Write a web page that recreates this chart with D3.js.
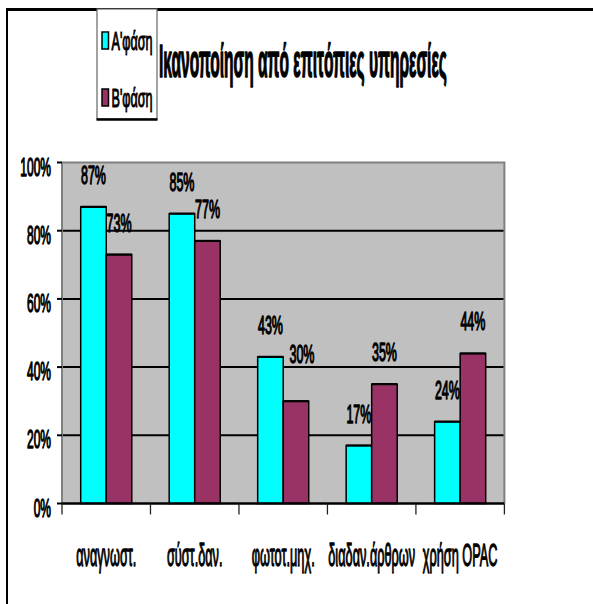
<!DOCTYPE html>
<html>
<head>
<meta charset="utf-8">
<script src="https://cdn.jsdelivr.net/npm/d3@7"></script>
<style>
  body { margin: 0; background: #fff; overflow: hidden; }
  svg { display: block; }
  text { font-family: "Liberation Sans", Arial, sans-serif; fill: #000; }
</style>
</head>
<body>
<svg id="chart" width="593" height="604"></svg>
<script>
// Satisfaction with on-site library services, two survey phases (%)
const categories = ["αναγνωστ.", "σύστ.δαν.", "φωτοτ.μηχ.", "διαδαν.άρθρων", "χρήση OPAC"];
const seriesNames = ["Α'φάση", "Β'φάση"];
const phaseA = [87, 85, 43, 17, 24];
const phaseB = [73, 77, 30, 35, 44];
const yTicks = [0, 20, 40, 60, 80, 100];
const chartTitle = "Ικανοποίηση από επιτόπιες υπηρεσίες";
const seriesColors = ["#00FFFF", "#993366"];

const svg = d3.select("#chart");
const plot = { left: 62, right: 504.4, top: 162.5, bottom: 503.5 };

const x = d3.scaleBand().domain(categories).range([plot.left, plot.right]).paddingInner(0).paddingOuter(0);
const xs = d3.scaleBand().domain(seriesNames).range([0, x.bandwidth()]).paddingInner(0).paddingOuter(0.733);
const y = d3.scaleLinear().domain([0, 100]).range([plot.bottom, plot.top]);

const rows = categories.map((c, i) => ({ cat: c, values: [phaseA[i], phaseB[i]] }));

// hand-moved value label (category index, series index) -> [dx, dy]
const labelNudges = { "2-1": [6, -15] };

// Narrow text: a regular face squeezed horizontally
function narrowText(sel, str, opts) {
  const g = sel.append("g")
    .attr("transform", `translate(${opts.x},${opts.y}) scale(${opts.sx},1)`);
  return g.append("text")
    .attr("font-size", opts.size)
    .attr("font-weight", opts.weight || "normal")
    .attr("text-anchor", opts.anchor || "start")
    .attr("stroke", "#000")
    .attr("stroke-width", opts.stroke || 0)
    .attr("stroke-linejoin", "round")
    .text(str);
}
function ratio(str, size, weight, target) {
  const t = svg.append("text").attr("font-size", size).attr("font-weight", weight || "normal").text(str);
  const w = t.node().getComputedTextLength();
  t.remove();
  return target / w;
}

// outer frame (top and left edges)
svg.append("line").attr("x1", 6).attr("x2", 593).attr("y1", 9.5).attr("y2", 9.5)
  .attr("stroke", "#000").attr("stroke-width", 3);
svg.append("line").attr("x1", 7).attr("x2", 7).attr("y1", 9).attr("y2", 604)
  .attr("stroke", "#000").attr("stroke-width", 2);

// plot background
svg.append("rect").attr("x", plot.left).attr("y", plot.top)
  .attr("width", plot.right - plot.left).attr("height", plot.bottom - plot.top)
  .attr("fill", "#C0C0C0");

// gridlines
svg.append("g").selectAll("line").data(yTicks.filter(v => v > 0 && v < 100)).join("line")
  .attr("x1", plot.left).attr("x2", plot.right)
  .attr("y1", d => y(d)).attr("y2", d => y(d))
  .attr("stroke", "#000").attr("stroke-width", 2);

// plot border (left, top, right)
svg.append("path")
  .attr("d", `M${plot.left},${plot.bottom}V${plot.top}H${plot.right}V${plot.bottom}`)
  .attr("fill", "none").attr("stroke", "#808080").attr("stroke-width", 2);

// bars
const groups = svg.append("g").selectAll("g").data(rows).join("g")
  .attr("transform", d => `translate(${x(d.cat)},0)`);
groups.selectAll("rect").data(d => d.values.map((v, k) => ({ v, k }))).join("rect")
  .attr("x", d => xs(seriesNames[d.k]))
  .attr("y", d => y(d.v))
  .attr("width", xs.bandwidth())
  .attr("height", d => y(0) - y(d.v))
  .attr("fill", d => seriesColors[d.k])
  .attr("stroke", "#000").attr("stroke-width", 1.5);
// heavier top edge on each bar
groups.selectAll("line").data(d => d.values.map((v, k) => ({ v, k }))).join("line")
  .attr("x1", d => xs(seriesNames[d.k])).attr("x2", d => xs(seriesNames[d.k]) + xs.bandwidth())
  .attr("y1", d => y(d.v)).attr("y2", d => y(d.v))
  .attr("stroke", "#000").attr("stroke-width", 2.2);

// x axis line and category ticks
svg.append("line").attr("x1", plot.left).attr("x2", plot.right)
  .attr("y1", plot.bottom).attr("y2", plot.bottom)
  .attr("stroke", "#000").attr("stroke-width", 2.5);
const bounds = categories.map(c => x(c)).concat([plot.right]);
svg.append("g").selectAll("line").data(bounds).join("line")
  .attr("x1", d => d).attr("x2", d => d)
  .attr("y1", plot.bottom).attr("y2", plot.bottom + 11)
  .attr("stroke", "#222").attr("stroke-width", 1.3);

// y ticks
svg.append("g").selectAll("line").data(yTicks).join("line")
  .attr("x1", plot.left - 5).attr("x2", plot.left)
  .attr("y1", d => y(d)).attr("y2", d => y(d))
  .attr("stroke", "#000").attr("stroke-width", 2);

// y tick labels
const tickSize = 25;
const tickSx = ratio("100%", tickSize, "normal", 30.7);
yTicks.forEach(v => {
  narrowText(svg, v + "%", { x: plot.left - 11, y: y(v) + 13, size: tickSize, sx: tickSx, anchor: "end", stroke: 1.3 });
});

// data labels
const valSize = 25;
const valSx = ratio("87%", valSize, "normal", 25);
rows.forEach((r, i) => {
  r.values.forEach((v, k) => {
    const nudge = labelNudges[`${i}-${k}`] || [0, 0];
    const cx = x(r.cat) + xs(seriesNames[k]) + xs.bandwidth() / 2;
    narrowText(svg, v + "%", { x: cx + nudge[0], y: y(v) - 23 + nudge[1], size: valSize, sx: valSx, anchor: "middle", stroke: 1.3 });
  });
});

// category labels
const catSize = 31;
const catSx = ratio("χρήση OPAC", catSize, "normal", 74.6);
categories.forEach(c => {
  narrowText(svg, c, { x: x(c) + x.bandwidth() / 2, y: 566, size: catSize, sx: catSx, anchor: "middle", stroke: 1.3 });
});

// legend
const legend = svg.append("g");
legend.append("rect").attr("x", 97).attr("y", 9).attr("width", 60).attr("height", 110)
  .attr("fill", "#fff").attr("stroke", "#666").attr("stroke-width", 1.2);
legend.append("line").attr("x1", 96.5).attr("x2", 157.5).attr("y1", 119.5).attr("y2", 119.5)
  .attr("stroke", "#000").attr("stroke-width", 2.5);
const legSize = 25;
const legSx = ratio(seriesNames[0], legSize, "normal", 41);
const legY = [41, 98];
seriesNames.forEach((s, k) => {
  legend.append("rect").attr("x", 102).attr("y", legY[k] - 9).attr("width", 6.5).attr("height", 17)
    .attr("fill", seriesColors[k]).attr("stroke", "#000").attr("stroke-width", 1.5);
  narrowText(legend, s, { x: 111.5, y: legY[k] + 9, size: legSize, sx: legSx, anchor: "start", stroke: 1.1 });
});

// title
const titleSize = 46;
const titleSx = ratio(chartTitle, titleSize, "bold", 288);
narrowText(svg, chartTitle, { x: 159, y: 77, size: titleSize, sx: titleSx, weight: "bold", anchor: "start", stroke: 1.6 });
</script>
</body>
</html>
